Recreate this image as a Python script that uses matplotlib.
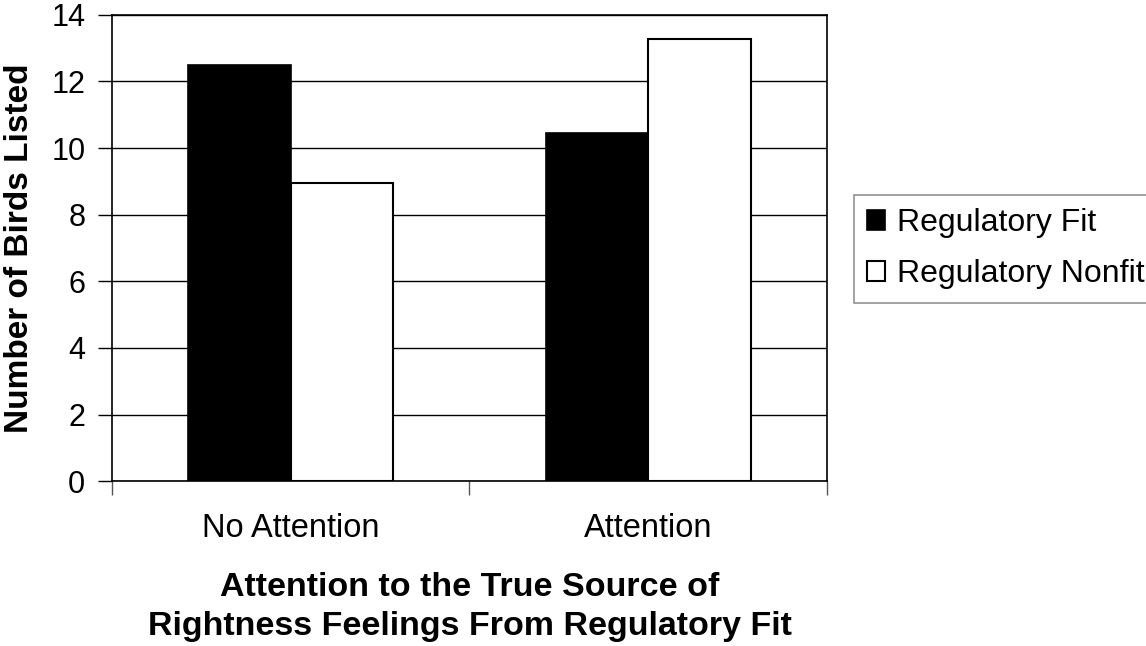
import numpy as np
import matplotlib
matplotlib.use('Agg')
import matplotlib.pyplot as plt

plt.rcParams['font.family'] = ['Liberation Sans', 'DejaVu Sans']

groups = ['No Attention', 'Attention']
fit = [12.5, 10.45]
nonfit = [8.95, 13.27]
series_names = ['Regulatory Fit', 'Regulatory Nonfit']

W, H = 1146, 646
fig = plt.figure(figsize=(W / 100, H / 100), dpi=100)
ax = fig.add_axes([111.7 / W, 1 - 481.3 / H, (827.3 - 111.7) / W, (481.3 - 14.7) / H])

x = np.arange(len(groups))
bw = 0.2865
ax.bar(x - bw / 2, fit, bw, color='black', edgecolor='black', linewidth=1.2,
       label=series_names[0], zorder=3)
ax.bar(x + bw / 2, nonfit, bw, color='white', edgecolor='black', linewidth=1.5,
       label=series_names[1], zorder=3)

ax.set_xlim(-0.5, 1.5)
ax.set_ylim(0, 14)
ax.set_yticks(np.arange(0, 15, 2))
ax.yaxis.grid(True, color='black', linewidth=1)
ax.set_axisbelow(True)

# ticks sit on the group boundaries, labels in the group centres
ax.set_xticks([-0.5, 0.5, 1.5])
ax.set_xticklabels([])
ax.set_xticks(x, minor=True)
ax.set_xticklabels(groups, minor=True)
ax.tick_params(axis='x', which='major', length=10, width=1, color='#555555')
ax.tick_params(axis='x', which='minor', length=0, pad=23, labelsize=23.5)
ax.tick_params(axis='y', length=10, width=1, pad=9, labelsize=22)

for s in ax.spines.values():
    s.set_linewidth(1.2)
    s.set_color('black')

ax.set_ylabel('Number of Birds Listed', fontsize=24, fontweight='bold', labelpad=12)
ax.set_xlabel('Attention to the True Source of\nRightness Feelings From Regulatory Fit',
              fontsize=24.5, fontweight='bold', labelpad=20, linespacing=1.35)

leg = fig.legend(loc='upper left', bbox_to_anchor=(854 / W, 1 - 195 / H),
                 borderaxespad=0, fontsize=23, frameon=True, fancybox=False,
                 edgecolor='#777777', handlelength=0.55, handleheight=0.55,
                 handletextpad=0.37, labelspacing=0.65, borderpad=0.42)
leg.get_frame().set_linewidth(1.2)

fig.savefig('out.png', dpi=100)
